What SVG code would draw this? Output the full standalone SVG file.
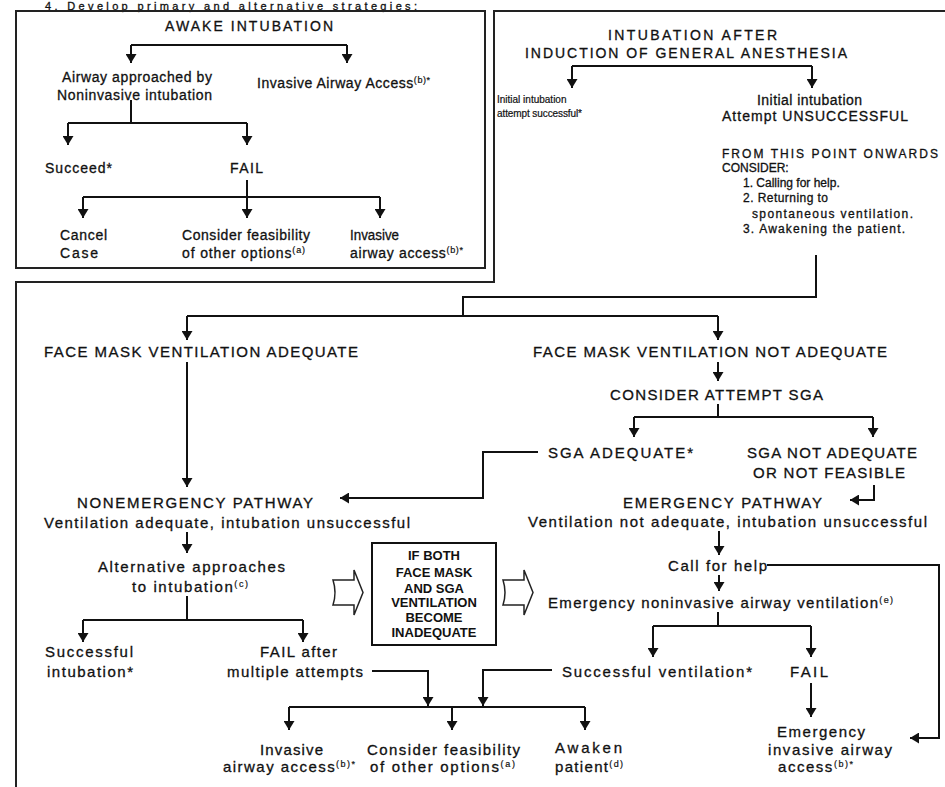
<svg xmlns="http://www.w3.org/2000/svg" width="945" height="787" viewBox="0 0 945 787">
<style>
.t{font-family:"Liberation Sans",Arial,sans-serif;font-size:15px;fill:#111;stroke:#111;stroke-width:0.3;text-anchor:middle}
.s{text-anchor:start}
.a{font-size:14px}
.sm{font-size:10px;stroke-width:0.2}
.l{font-size:12px}
.hd{font-size:11px}
.b{font-family:"Liberation Sans",Arial,sans-serif;font-size:13px;font-weight:bold;fill:#111;text-anchor:middle}
.sup{font-size:9px;stroke-width:0.2}
.ln{fill:none;stroke:#111;stroke-width:2}
.ar{marker-end:url(#ah)}
.frame{fill:none;stroke:#222;stroke-width:2}
.hol{fill:#fff;stroke:#222;stroke-width:1.5}
</style>
<defs>
<marker id="ah" viewBox="0 0 9 11" refX="9" refY="5.5" markerWidth="9" markerHeight="11" markerUnits="userSpaceOnUse" orient="auto">
<path d="M0,0 L9,5.5 L0,11 z" fill="#111"/>
</marker>
</defs>
<rect width="945" height="787" fill="#fff"/>

<g id="header"><text class="t hd s" x="45" y="9.5" textLength="372">4. Develop primary and alternative strategies:</text></g>

<g id="frame">
<rect class="frame" x="16" y="11" width="469" height="257"/>
<path class="frame" d="M16,787 V282 H494 V11 H945"/>
</g>

<g id="n_awake"><text class="t a" x="249" y="31" textLength="168">AWAKE INTUBATION</text></g>
<g id="n_noninv"><text class="t a" x="137" y="82" textLength="150">Airway approached by</text><text class="t a" x="134.5" y="100" textLength="155">Noninvasive intubation</text></g>
<g id="n_inv1"><text class="t a" x="343.5" y="88" textLength="173">Invasive Airway Access<tspan class="sup" dy="-5">(b)*</tspan></text></g>
<g id="n_succeed"><text class="t a" x="78.5" y="173" textLength="67">Succeed*</text></g>
<g id="n_fail1"><text class="t a" x="246.5" y="173" textLength="33">FAIL</text></g>
<g id="n_cancel"><text class="t a s" x="60" y="240" textLength="47">Cancel</text><text class="t a s" x="60" y="258" textLength="38">Case</text></g>
<g id="n_consider1"><text class="t a s" x="182" y="240" textLength="128">Consider feasibility</text><text class="t a s" x="182" y="258" textLength="123">of other options<tspan class="sup" dy="-5">(a)</tspan></text></g>
<g id="n_inv2"><text class="t a s" x="350" y="240" textLength="49" lengthAdjust="spacingAndGlyphs">Invasive</text><text class="t a s" x="350" y="258" textLength="113">airway access<tspan class="sup" dy="-5">(b)*</tspan></text></g>

<g id="n_ga"><text class="t a" x="692.5" y="40" textLength="169">INTUBATION AFTER</text><text class="t a" x="686" y="58" textLength="322">INDUCTION OF GENERAL ANESTHESIA</text></g>
<g id="n_init_ok"><text class="t sm s" x="497" y="103">Initial intubation</text><text class="t sm s" x="497" y="117" textLength="85">attempt successful*</text></g>
<g id="n_init_fail"><text class="t a" x="809.5" y="105" textLength="105">Initial intubation</text><text class="t a" x="815" y="121" textLength="186">Attempt UNSUCCESSFUL</text></g>
<g id="n_consider_list">
<text class="t l s" x="722" y="158" textLength="216">FROM THIS POINT ONWARDS</text>
<text class="t l s" x="722" y="172">CONSIDER:</text>
<text class="t l s" x="743" y="187">1. Calling for help.</text>
<text class="t l s" x="743" y="202" textLength="85">2. Returning to</text>
<text class="t l s" x="752" y="218" textLength="161">spontaneous ventilation.</text>
<text class="t l s" x="743" y="233" textLength="162">3. Awakening the patient.</text>
</g>

<g id="n_fm_ok"><text class="t" x="201" y="357" textLength="314">FACE MASK VENTILATION ADEQUATE</text></g>
<g id="n_fm_notok"><text class="t" x="710" y="357" textLength="354">FACE MASK VENTILATION NOT ADEQUATE</text></g>
<g id="n_sga"><text class="t" x="716.5" y="400" textLength="213">CONSIDER ATTEMPT SGA</text></g>
<g id="n_sga_ok"><text class="t" x="620.5" y="458" textLength="145">SGA ADEQUATE*</text></g>
<g id="n_sga_notok"><text class="t" x="832" y="458" textLength="170">SGA NOT ADEQUATE</text><text class="t" x="829" y="478" textLength="152">OR NOT FEASIBLE</text></g>
<g id="n_nonemerg"><text class="t" x="195" y="508" textLength="236">NONEMERGENCY PATHWAY</text><text class="t" x="227" y="528" textLength="366">Ventilation adequate, intubation unsuccessful</text></g>
<g id="n_emerg"><text class="t" x="722.5" y="508" textLength="199">EMERGENCY PATHWAY</text><text class="t" x="727.5" y="527" textLength="399">Ventilation not adequate, intubation unsuccessful</text></g>
<g id="n_alt"><text class="t" x="191.5" y="572" textLength="187">Alternative approaches</text><text class="t" x="190" y="592" textLength="116">to intubation<tspan class="sup" dy="-5">(c)</tspan></text></g>
<g id="n_help"><text class="t" x="717.5" y="571" textLength="99">Call for help</text></g>
<g id="n_emerg_vent"><text class="t" x="720.5" y="608" textLength="345">Emergency noninvasive airway ventilation<tspan class="sup" dy="-5">(e)</tspan></text></g>
<g id="n_succ_int"><text class="t" x="89" y="657" textLength="88">Successful</text><text class="t" x="90" y="677" textLength="86">intubation*</text></g>
<g id="n_fail_mult"><text class="t" x="298.5" y="657" textLength="77">FAIL after</text><text class="t" x="295" y="677" textLength="136">multiple attempts</text></g>
<g id="n_succ_vent"><text class="t" x="657" y="677" textLength="190">Successful ventilation*</text></g>
<g id="n_fail2"><text class="t" x="809" y="677" textLength="38">FAIL</text></g>
<g id="n_inv3"><text class="t" x="291.5" y="755" textLength="63">Invasive</text><text class="t" x="289" y="772" textLength="132">airway access<tspan class="sup" dy="-5">(b)*</tspan></text></g>
<g id="n_consider2"><text class="t" x="443.5" y="755" textLength="153">Consider feasibility</text><text class="t" x="442.5" y="772" textLength="145">of other options<tspan class="sup" dy="-5">(a)</tspan></text></g>
<g id="n_awaken"><text class="t s" x="555" y="753" textLength="67">Awaken</text><text class="t s" x="555" y="772" textLength="68">patient<tspan class="sup" dy="-5">(d)</tspan></text></g>
<g id="n_emerg_inv"><text class="t" x="821" y="737" textLength="88">Emergency</text><text class="t" x="830" y="755" textLength="124">invasive airway</text><text class="t" x="815.5" y="772" textLength="75">access<tspan class="sup" dy="-5">(b)*</tspan></text></g>

<g id="n_ifboth">
<rect x="372" y="543" width="124" height="102" fill="#fff" stroke="#111" stroke-width="2"/>
<text class="b" x="434" y="560">IF BOTH</text>
<text class="b" x="434" y="577">FACE MASK</text>
<text class="b" x="434" y="593">AND SGA</text>
<text class="b" x="434" y="607">VENTILATION</text>
<text class="b" x="434" y="622">BECOME</text>
<text class="b" x="434" y="637">INADEQUATE</text>
</g>

<g id="connectors">
<path class="hol" d="M333,580 H354 V570 L363,592.5 L354,615 V605 H333 Q337,592.5 333,580 z"/>
<path class="hol" d="M503,580 H524 V570 L533,592.5 L524,615 V605 H503 Q507,592.5 503,580 z"/>
<path class="ln" d="M131,45 H347"/>
<path class="ln ar" d="M131,45 V63"/>
<path class="ln ar" d="M347,45 V63"/>
<path class="ln" d="M131,100 V123 M68,123 H247"/>
<path class="ln ar" d="M68,123 V145"/>
<path class="ln ar" d="M247,123 V145"/>
<path class="ln" d="M247,180 V197 M83,197 H380"/>
<path class="ln ar" d="M83,197 V218"/>
<path class="ln ar" d="M247,197 V218"/>
<path class="ln ar" d="M380,197 V218"/>
<path class="ln" d="M572,66 H812"/>
<path class="ln ar" d="M572,66 V88"/>
<path class="ln ar" d="M812,66 V88"/>
<path class="ln" d="M816,255 V297 H463 V316 M187,316 H718"/>
<path class="ln ar" d="M187,316 V340"/>
<path class="ln ar" d="M718,316 V340"/>
<path class="ln ar" d="M187,362 V487"/>
<path class="ln ar" d="M718,362 V381"/>
<path class="ln" d="M718,404 V417 M634,417 H873"/>
<path class="ln ar" d="M634,417 V437"/>
<path class="ln ar" d="M873,417 V437"/>
<path class="ln ar" d="M538,452 H483 V498 H340"/>
<path class="ln ar" d="M874,485 V500 H850"/>
<path class="ln ar" d="M187,532 V553"/>
<path class="ln ar" d="M719,531 V555"/>
<path class="ln ar" d="M767,565 H939 V738 H910"/>
<path class="ln ar" d="M719,575 V591"/>
<path class="ln" d="M187,596 V620 M83,620 H303"/>
<path class="ln ar" d="M83,620 V642"/>
<path class="ln ar" d="M303,620 V642"/>
<path class="ln" d="M718,612 V626 M653,626 H811"/>
<path class="ln ar" d="M653,626 V657"/>
<path class="ln ar" d="M811,626 V657"/>
<path class="ln ar" d="M811,683 V717"/>
<path class="ln ar" d="M372,671 H428 V706"/>
<path class="ln ar" d="M552,670 H483 V706"/>
<path class="ln" d="M289,707 H585"/>
<path class="ln ar" d="M289,707 V730"/>
<path class="ln ar" d="M452,707 V730"/>
<path class="ln ar" d="M585,707 V730"/>
</g>
</svg>
